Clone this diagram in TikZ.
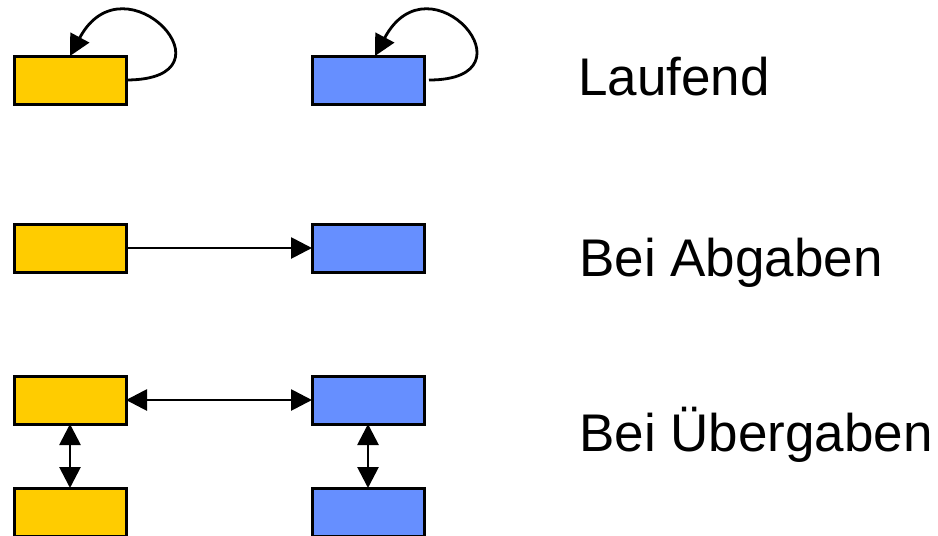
\documentclass[tikz,border=0pt]{standalone}
\usepackage{fontspec}
\setmainfont{Liberation Sans}
\usetikzlibrary{arrows.meta}
\definecolor{boxyellow}{RGB}{255,204,0}
\definecolor{boxblue}{RGB}{102,143,255}
\begin{document}
\begin{tikzpicture}[x=1pt,y=-1pt,
  ybox/.style={draw=black,line width=3pt,fill=boxyellow,minimum width=112pt,minimum height=48pt,inner sep=0pt,outer sep=0pt},
  bbox/.style={ybox,fill=boxblue},
  conn/.style={line width=2.8pt,-{Triangle[length=21pt,width=21pt]}},
  dconn/.style={line width=2.8pt,{Triangle[length=21pt,width=21pt]}-{Triangle[length=21pt,width=21pt]}},
  lbl/.style={anchor=base west,inner sep=0pt,font=\fontsize{53}{60}\selectfont}]
\useasboundingbox (0,0) rectangle (938,536);
\node[ybox] (y1) at (70,80) {};
\node[bbox] (b1) at (368,80) {};
\node[ybox] (y2) at (70,248) {};
\node[bbox] (b2) at (368,248) {};
\node[ybox] (y3) at (70,400) {};
\node[bbox] (b3) at (368,400) {};
\node[ybox] (y4) at (70,512) {};
\node[bbox] (b4) at (368,512) {};
\draw[conn] (y1.east) .. controls +(116,0) and +(55,-103) .. (y1.north);
\draw[conn] ([xshift=5pt]b1.east) .. controls +(111,0) and +(55,-103) .. ([xshift=7pt]b1.north);
\draw[conn] (y2.east) -- (b2.west);
\draw[dconn] (y3.east) -- (b3.west);
\draw[dconn] (y3.south) -- (y4.north);
\draw[dconn] (b3.south) -- (b4.north);
\node[lbl] (t1) at (578,95) {Laufend};
\node[lbl] (t2) at (579,276) {Bei Abgaben};
\node[lbl] (t3) at (579,451) {Bei Übergaben};
\end{tikzpicture}
\end{document}
